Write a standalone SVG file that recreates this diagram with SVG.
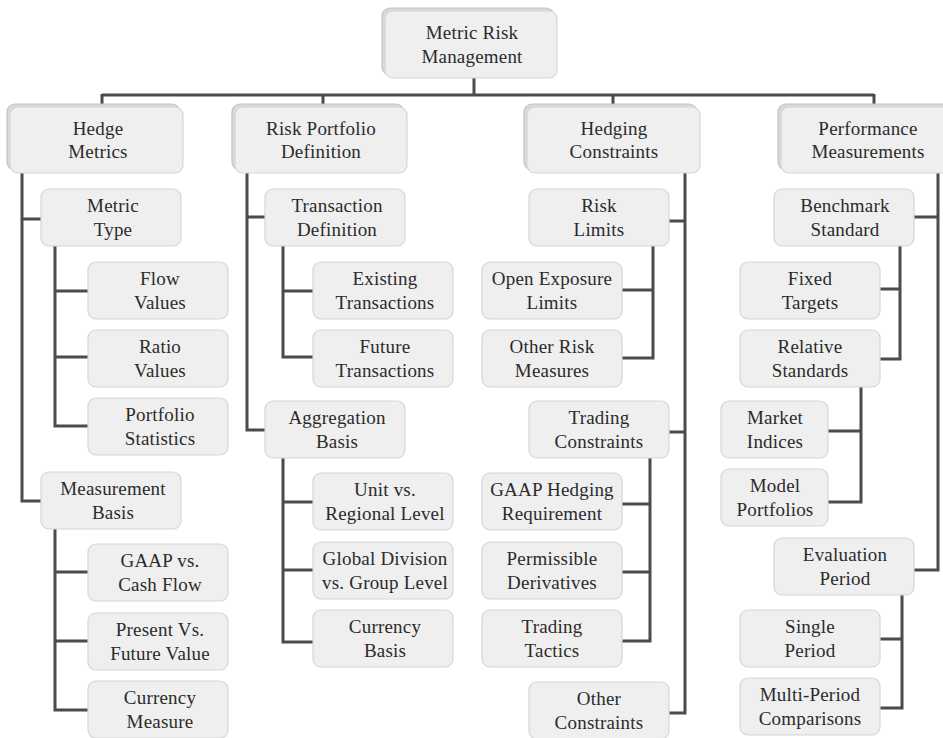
<svg xmlns="http://www.w3.org/2000/svg" width="943" height="738" viewBox="0 0 943 738">
<style>
.bg{fill:#ffffff}
.bx{fill:#efefef;stroke:#d6d6d6;stroke-width:1.2}
.bk{fill:#dadada;stroke:#c4c4c4;stroke-width:1.2}
.t{font-family:"Liberation Serif","Times New Roman",serif;font-size:19px;fill:#2b2b2b;text-anchor:middle;letter-spacing:0.2px}
.c{fill:none;stroke:#4b4b4b;stroke-width:3;stroke-linejoin:miter;stroke-linecap:butt}
</style>
<rect class="bg" x="0" y="0" width="943" height="738"/>
<g id="connectors">
<path class="c" d="M474,78V95M102,95H874M102,94V105M323,94V105M613,94V105M874,94V105"/>
<path class="c" d="M22,173V501H41M22,219H41"/>
<path class="c" d="M55,246V426H88M55,291H88M55,357H88"/>
<path class="c" d="M55,529V710H88M55,572H88M55,641H88"/>
<path class="c" d="M247,173V430H265M247,217H265"/>
<path class="c" d="M283,246V357H313M283,291H313"/>
<path class="c" d="M283,458V642H313M283,502H313M283,570H313"/>
<path class="c" d="M685,173V713H669M685,221H669M685,432H669"/>
<path class="c" d="M653,246V358H622M653,290H622"/>
<path class="c" d="M650,458V641H622M650,504H622M650,572H622"/>
<path class="c" d="M938,173V570H914M938,217H914"/>
<path class="c" d="M900,246V359H880M900,289H880"/>
<path class="c" d="M861,387V502H828M861,431H828"/>
<path class="c" d="M902,594V708H880M902,639H880"/>
</g>
<g id="root">
<rect class="bk" x="382" y="8" width="172" height="67" rx="8"/>
<rect class="bx" x="385" y="11" width="172" height="67" rx="8"/>
<text class="t" x="472" y="39">Metric Risk</text>
<text class="t" x="472" y="62.5">Management</text>
</g>
<g id="hedge-metrics">
<rect class="bk" x="7" y="104" width="173" height="66" rx="8"/>
<rect class="bx" x="10" y="107" width="173" height="66" rx="8"/>
<text class="t" x="98" y="135">Hedge</text>
<text class="t" x="98" y="158">Metrics</text>
</g>
<g id="risk-portfolio-definition">
<rect class="bk" x="232" y="104" width="172" height="66" rx="8"/>
<rect class="bx" x="235" y="107" width="172" height="66" rx="8"/>
<text class="t" x="321" y="135">Risk Portfolio</text>
<text class="t" x="321" y="158">Definition</text>
</g>
<g id="hedging-constraints">
<rect class="bk" x="524" y="104" width="173" height="66" rx="8"/>
<rect class="bx" x="527" y="107" width="173" height="66" rx="8"/>
<text class="t" x="614" y="135">Hedging</text>
<text class="t" x="614" y="158">Constraints</text>
</g>
<g id="performance-measurements">
<rect class="bk" x="778" y="104" width="173" height="66" rx="8"/>
<rect class="bx" x="781" y="107" width="173" height="66" rx="8"/>
<text class="t" x="868" y="135">Performance</text>
<text class="t" x="868" y="158">Measurements</text>
</g>
<g id="metric-type"><rect class="bx" x="41" y="189" width="140" height="57" rx="8"/><text class="t" x="113" y="212">Metric</text><text class="t" x="113" y="236">Type</text></g>
<g id="flow-values"><rect class="bx" x="88" y="262" width="140" height="57" rx="8"/><text class="t" x="160" y="285">Flow</text><text class="t" x="160" y="309">Values</text></g>
<g id="ratio-values"><rect class="bx" x="88" y="330" width="140" height="57" rx="8"/><text class="t" x="160" y="353">Ratio</text><text class="t" x="160" y="377">Values</text></g>
<g id="portfolio-statistics"><rect class="bx" x="88" y="398" width="140" height="57" rx="8"/><text class="t" x="160" y="421">Portfolio</text><text class="t" x="160" y="445">Statistics</text></g>
<g id="measurement-basis"><rect class="bx" x="41" y="472" width="140" height="57" rx="8"/><text class="t" x="113" y="495">Measurement</text><text class="t" x="113" y="519">Basis</text></g>
<g id="gaap-cash-flow"><rect class="bx" x="88" y="544" width="140" height="57" rx="8"/><text class="t" x="160" y="567">GAAP vs.</text><text class="t" x="160" y="591">Cash Flow</text></g>
<g id="present-future-value"><rect class="bx" x="88" y="613" width="140" height="57" rx="8"/><text class="t" x="160" y="636">Present Vs.</text><text class="t" x="160" y="660">Future Value</text></g>
<g id="currency-measure"><rect class="bx" x="88" y="681" width="140" height="57" rx="8"/><text class="t" x="160" y="704">Currency</text><text class="t" x="160" y="728">Measure</text></g>
<g id="transaction-definition"><rect class="bx" x="265" y="189" width="140" height="57" rx="8"/><text class="t" x="337" y="212">Transaction</text><text class="t" x="337" y="236">Definition</text></g>
<g id="existing-transactions"><rect class="bx" x="313" y="262" width="140" height="57" rx="8"/><text class="t" x="385" y="285">Existing</text><text class="t" x="385" y="309">Transactions</text></g>
<g id="future-transactions"><rect class="bx" x="313" y="330" width="140" height="57" rx="8"/><text class="t" x="385" y="353">Future</text><text class="t" x="385" y="377">Transactions</text></g>
<g id="aggregation-basis"><rect class="bx" x="265" y="401" width="140" height="57" rx="8"/><text class="t" x="337" y="424">Aggregation</text><text class="t" x="337" y="448">Basis</text></g>
<g id="unit-regional-level"><rect class="bx" x="313" y="473" width="140" height="57" rx="8"/><text class="t" x="385" y="496">Unit vs.</text><text class="t" x="385" y="520">Regional Level</text></g>
<g id="global-division-group-level"><rect class="bx" x="313" y="542" width="140" height="57" rx="8"/><text class="t" x="385" y="565">Global Division</text><text class="t" x="385" y="589">vs. Group Level</text></g>
<g id="currency-basis"><rect class="bx" x="313" y="610" width="140" height="57" rx="8"/><text class="t" x="385" y="633">Currency</text><text class="t" x="385" y="657">Basis</text></g>
<g id="risk-limits"><rect class="bx" x="529" y="189" width="140" height="57" rx="8"/><text class="t" x="599" y="212">Risk</text><text class="t" x="599" y="236">Limits</text></g>
<g id="open-exposure-limits"><rect class="bx" x="482" y="262" width="140" height="57" rx="8"/><text class="t" x="552" y="285">Open Exposure</text><text class="t" x="552" y="309">Limits</text></g>
<g id="other-risk-measures"><rect class="bx" x="482" y="330" width="140" height="57" rx="8"/><text class="t" x="552" y="353">Other Risk</text><text class="t" x="552" y="377">Measures</text></g>
<g id="trading-constraints"><rect class="bx" x="529" y="401" width="140" height="57" rx="8"/><text class="t" x="599" y="424">Trading</text><text class="t" x="599" y="448">Constraints</text></g>
<g id="gaap-hedging-requirement"><rect class="bx" x="482" y="473" width="140" height="57" rx="8"/><text class="t" x="552" y="496">GAAP Hedging</text><text class="t" x="552" y="520">Requirement</text></g>
<g id="permissible-derivatives"><rect class="bx" x="482" y="542" width="140" height="57" rx="8"/><text class="t" x="552" y="565">Permissible</text><text class="t" x="552" y="589">Derivatives</text></g>
<g id="trading-tactics"><rect class="bx" x="482" y="610" width="140" height="57" rx="8"/><text class="t" x="552" y="633">Trading</text><text class="t" x="552" y="657">Tactics</text></g>
<g id="other-constraints"><rect class="bx" x="529" y="682" width="140" height="57" rx="8"/><text class="t" x="599" y="705">Other</text><text class="t" x="599" y="729">Constraints</text></g>
<g id="benchmark-standard"><rect class="bx" x="774" y="189" width="140" height="57" rx="8"/><text class="t" x="845" y="212">Benchmark</text><text class="t" x="845" y="236">Standard</text></g>
<g id="fixed-targets"><rect class="bx" x="740" y="262" width="140" height="57" rx="8"/><text class="t" x="810" y="285">Fixed</text><text class="t" x="810" y="309">Targets</text></g>
<g id="relative-standards"><rect class="bx" x="740" y="330" width="140" height="57" rx="8"/><text class="t" x="810" y="353">Relative</text><text class="t" x="810" y="377">Standards</text></g>
<g id="market-indices"><rect class="bx" x="721" y="401" width="107" height="57" rx="8"/><text class="t" x="775" y="424">Market</text><text class="t" x="775" y="448">Indices</text></g>
<g id="model-portfolios"><rect class="bx" x="721" y="469" width="107" height="57" rx="8"/><text class="t" x="775" y="492">Model</text><text class="t" x="775" y="516">Portfolios</text></g>
<g id="evaluation-period"><rect class="bx" x="774" y="538" width="140" height="57" rx="8"/><text class="t" x="845" y="561">Evaluation</text><text class="t" x="845" y="585">Period</text></g>
<g id="single-period"><rect class="bx" x="740" y="610" width="140" height="57" rx="8"/><text class="t" x="810" y="633">Single</text><text class="t" x="810" y="657">Period</text></g>
<g id="multi-period-comparisons"><rect class="bx" x="740" y="678" width="140" height="57" rx="8"/><text class="t" x="810" y="701">Multi-Period</text><text class="t" x="810" y="725">Comparisons</text></g>
</svg>
